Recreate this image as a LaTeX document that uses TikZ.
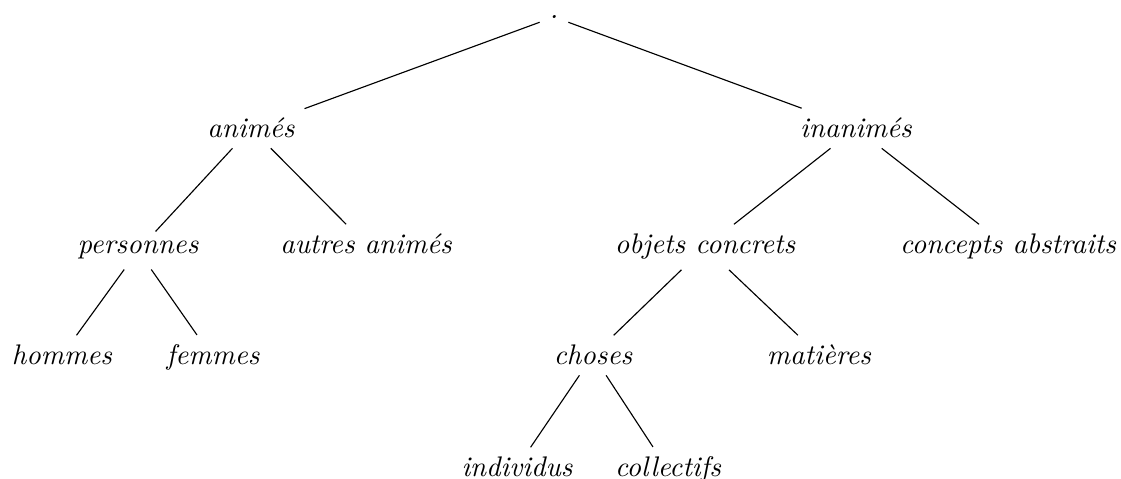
\documentclass[tikz,border=0pt]{standalone}
\begin{document}
\begin{tikzpicture}[x=0.3525pt,y=-0.3525pt, lab/.style={anchor=base,font=\itshape}]
\useasboundingbox (0,0) rectangle (1121,479);
\node[lab] (root) at (554,18.5) {.};
\node[lab] (anim) at (251,138) {animés};
\node[lab] (inan) at (856,138) {inanimés};
\node[lab] (pers) at (138,254) {personnes};
\node[lab] (autr) at (366,254) {autres animés};
\node[lab] (obj) at (705,254) {objets concrets};
\node[lab] (conc) at (1008,254) {concepts abstraits};
\node[lab] (homm) at (62,365) {hommes};
\node[lab] (femm) at (213,365) {femmes};
\node[lab] (chos) at (593,365) {choses};
\node[lab] (mat) at (819,365) {matières};
\node[lab] (indi) at (517,477) {individus};
\node[lab] (coll) at (668,477) {collectifs};
\draw (root) -- (anim);
\draw (root) -- (inan);
\draw (anim) -- (pers);
\draw (anim) -- (autr);
\draw (inan) -- (obj);
\draw (inan) -- (conc);
\draw (pers) -- (homm);
\draw (pers) -- (femm);
\draw (obj) -- (chos);
\draw (obj) -- (mat);
\draw (chos) -- (indi);
\draw (chos) -- (coll);
\end{tikzpicture}
\end{document}
